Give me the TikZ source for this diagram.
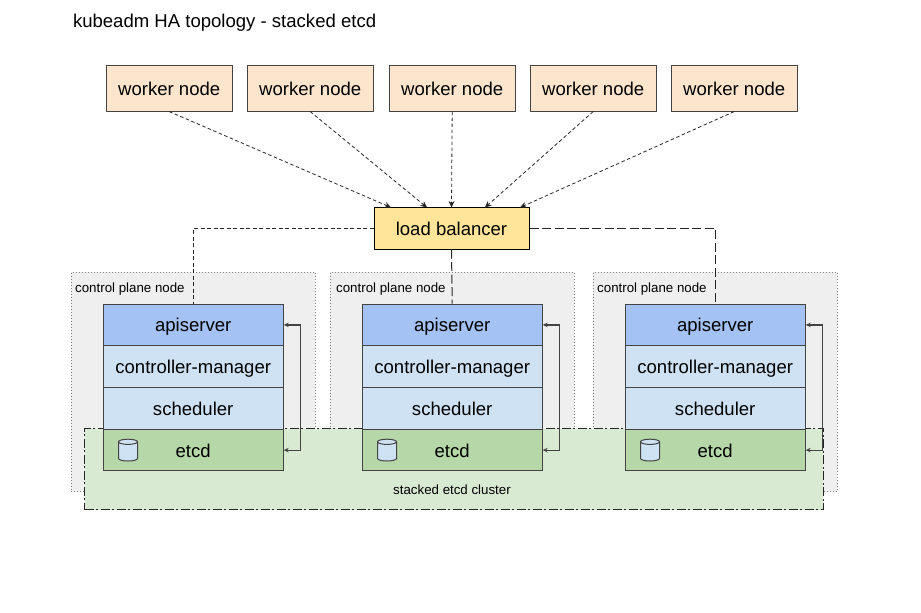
\documentclass[tikz,border=0pt]{standalone}
\usepackage{fontspec}
\setmainfont{Liberation Sans}
\usetikzlibrary{arrows.meta}

\definecolor{workerfill}{HTML}{FCE5CD}
\definecolor{lbfill}{HTML}{FFE599}
\definecolor{apifill}{HTML}{A4C2F4}
\definecolor{blockfill}{HTML}{CFE2F3}
\definecolor{etcdfill}{HTML}{B6D7A8}
\definecolor{clusterfill}{HTML}{D9EAD3}
\definecolor{planefill}{HTML}{EFEFEF}
\definecolor{edgegray}{HTML}{434343}

\tikzset{
  bigtext/.style={font=\fontsize{18.55}{22}\selectfont,text height=15.6pt,text depth=1.8pt,inner sep=0pt},
  smalltext/.style={font=\fontsize{13.3}{16}\selectfont,inner sep=0pt},
  workerbox/.style={bigtext,draw=edgegray,line width=1pt,fill=workerfill,minimum width=126pt,minimum height=45.5pt},
  lbbox/.style={bigtext,draw=black,line width=1pt,fill=lbfill,minimum width=155pt,minimum height=41.5pt},
  stackbox/.style={bigtext,draw=edgegray,line width=1pt,minimum width=180pt,minimum height=41.75pt},
  planebox/.style={draw=gray,dotted,line width=1pt,fill=planefill,minimum width=244pt,minimum height=219.5pt,inner sep=0pt},
  clusterbox/.style={draw=black!85,line width=1pt,fill=clusterfill,dash pattern=on 9pt off 2.5pt on 2pt off 2.5pt,minimum width=738.5pt,minimum height=81pt,inner sep=0pt},
  dbicon/.style={draw=edgegray,line width=1pt,fill=blockfill},
  lbarrow/.style={line width=0.8pt,draw=black!85,dash pattern=on 3.5pt off 2.5pt,-{Stealth[length=6.5pt,width=6pt]}},
  shortdash/.style={line width=1pt,draw=black!85,dash pattern=on 4pt off 2.5pt},
  longdash/.style={line width=1pt,draw=black!85,dash pattern=on 9pt off 3.5pt},
  looparrow/.style={line width=1.2pt,draw=edgegray,{Stealth[length=5pt,width=4.5pt]}-{Stealth[length=5pt,width=4.5pt]}}
}

\begin{document}
\begin{tikzpicture}[x=1pt,y=-1pt]

\useasboundingbox (0,0) rectangle (921,613);

% title
\node[font=\fontsize{18.55}{22}\selectfont,anchor=west,inner sep=0pt] (title) at (72.8,23) {kubeadm HA topology - stacked etcd};

% worker nodes
\foreach \x/\i in {169.2/1,310.2/2,452.2/3,593.2/4,734.2/5}{
    \node[workerbox] (worker\i) at (\x,88.3) {worker node};
}

\node[lbbox] (lb) at (451.5,228.3) {load balancer};

% entry points on top of the load balancer
\coordinate (in1) at (391,207.5);
\coordinate (in2) at (427,207.5);
\coordinate (in3) at (451.5,207.5);
\coordinate (in4) at (485,207.5);
\coordinate (in5) at (520,207.5);

\foreach \i in {1,...,5}{
    \draw[lbarrow] (worker\i.south) -- (in\i);
}

% control plane backgrounds
\foreach \x/\lx/\i in {193.2/75/1,452.2/336/2,715.2/597/3}{
    \node[planebox] (plane\i) at (\x,381.9) {};
    \node[smalltext,anchor=west] (planelabel\i) at (\lx,289.5) {control plane node};
}

% etcd cluster
\node[clusterbox] (cluster) at (454,469.4) {};
\node[smalltext] (clusterlabel) at (452,490) {stacked etcd cluster};

% component stacks
\foreach \x/\i in {193.2/1,452.2/2,715.2/3}{
    \node[stackbox,fill=apifill] (api\i) at (\x,324.9) {apiserver};
    \node[stackbox,fill=blockfill] (ctrl\i) at (\x,366.6) {controller-manager};
    \node[stackbox,fill=blockfill] (sched\i) at (\x,408.4) {scheduler};
    \node[stackbox,fill=etcdfill] (etcd\i) at (\x,450.1) {etcd};
    \draw[looparrow] (api\i.east) -- ++(17,0) |- (etcd\i.east);

    % database icon
    \filldraw[dbicon] (\x-74.7,441.8) -- ++(0,16.6)
        arc[start angle=180,end angle=0,x radius=9.5,y radius=2.6]
        -- ++(0,-16.6)
        arc[start angle=0,end angle=-180,x radius=9.5,y radius=2.6]
        arc[start angle=180,end angle=0,x radius=9.5,y radius=2.6];
}

% load balancer to apiservers
\draw[shortdash] (lb.west) -| (api1.north);
\draw[longdash] (lb.south) -- (api2.north);
\draw[longdash] (lb.east) -| (api3.north);

\end{tikzpicture}
\end{document}
